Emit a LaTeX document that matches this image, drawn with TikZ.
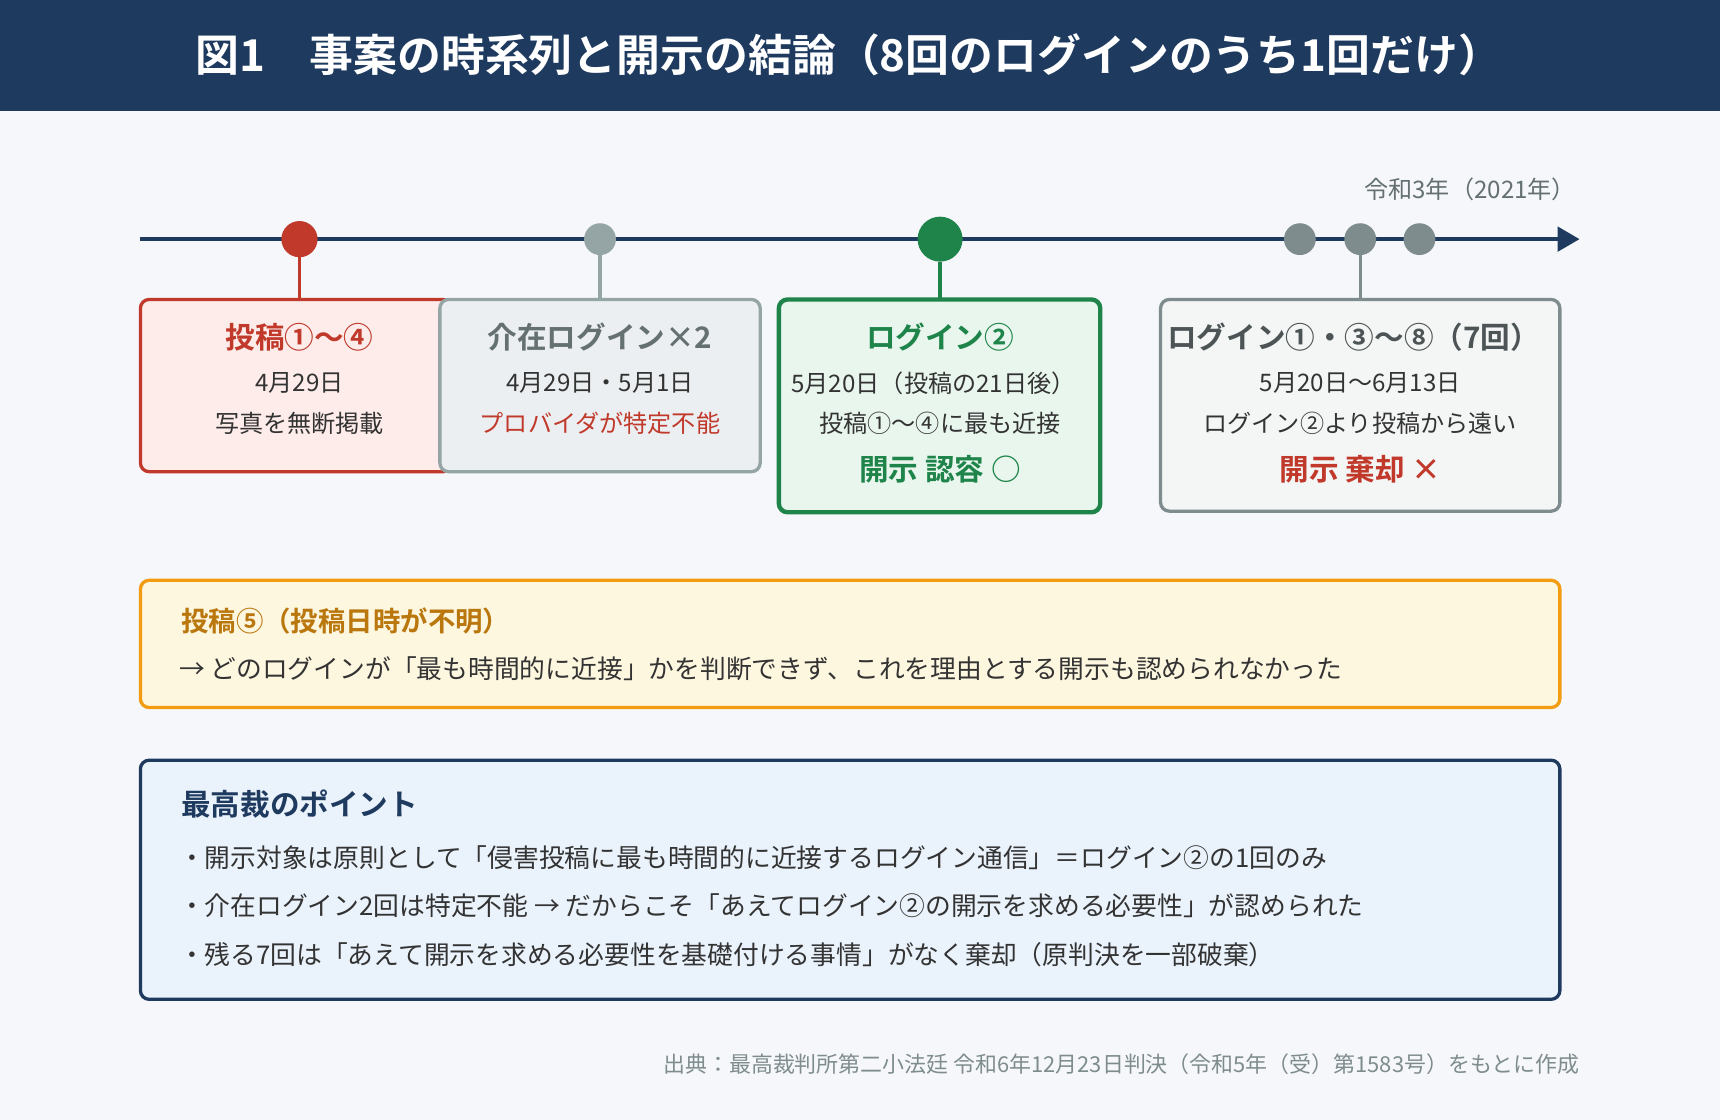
\documentclass[tikz,border=0pt]{standalone}
\usepackage{fontspec}
\setmainfont{Noto Sans CJK JP}[BoldFont={* Bold}]
\usetikzlibrary{arrows.meta}
\definecolor{navy}{HTML}{1E3A5F}
\definecolor{bg}{HTML}{F5F7FA}
\definecolor{red1}{HTML}{C0392B}
\definecolor{gray1}{HTML}{95A5A6}
\definecolor{gray2}{HTML}{7F8C8D}
\definecolor{green1}{HTML}{1E8449}
\definecolor{orange1}{HTML}{F39C12}
\definecolor{brown1}{HTML}{B9770E}
\definecolor{txt}{HTML}{333333}
\definecolor{fred}{HTML}{FDECEA}
\definecolor{fgray}{HTML}{ECEFF1}
\definecolor{fgreen}{HTML}{E8F6EE}
\definecolor{fgray2}{HTML}{F4F5F5}
\definecolor{fyel}{HTML}{FEF7E0}
\definecolor{fblue}{HTML}{EAF2FB}
\tikzset{
 box/.style={rounded corners=8pt,line width=3pt},
 dot/.style={circle,inner sep=0pt},
 stem/.style={line width=3pt},
 t/.style={font=\fontsize{23.5}{26}\selectfont,text=txt,inner sep=0pt},
 bt/.style={t,font=\fontsize{22}{26}\selectfont},
 h/.style={font=\fontsize{27}{30}\selectfont\bfseries,inner sep=0pt},
}
\begin{document}
\begin{tikzpicture}[x=1pt,y=-1pt]
\useasboundingbox (0,0) rectangle (1568,1021);
\fill[bg] (0,0) rectangle (1568,1021);
\fill[navy] (0,0) rectangle (1568,101);
\node[font=\fontsize{40}{44}\selectfont\bfseries,text=white] (title) at (774,50) {図1\quad 事案の時系列と開示の結論（8回のログインのうち1回だけ）};
\node[bt,anchor=east,text=gray2!80!black] (year) at (1437,173) {令和3年（2021年）};
\coordinate (tl0) at (128,218); \coordinate (tl1) at (1440,218);
\draw[navy,line width=4pt,-{Triangle[length=20pt,width=22pt]}] (tl0) -- (tl1);
% boxes
\draw[box,red1,fill=fred] (128,273) rectangle (412,430);
\draw[box,gray1,fill=fgray] (401,273) rectangle (693,430);
\draw[box,green1,fill=fgreen,line width=4pt] (710,273) rectangle (1003,467);
\draw[box,gray2,fill=fgray2] (1058,273) rectangle (1422,466);
% dots and stems
\node[dot,fill=red1,minimum size=33pt] (d1) at (273,218) {};
\node[dot,fill=gray1,minimum size=29pt] (d2) at (547,218) {};
\node[dot,fill=green1,minimum size=41pt] (d3) at (857,218) {};
\node[dot,fill=gray2,minimum size=29pt] (d4) at (1185,218) {};
\node[dot,fill=gray2,minimum size=29pt] (d5) at (1240,218) {};
\node[dot,fill=gray2,minimum size=29pt] (d6) at (1294,218) {};
\coordinate (b1) at (273,272); \coordinate (b2) at (547,272);
\coordinate (b3) at (857,272); \coordinate (b4) at (1240,272);
\draw[stem,red1] (d1) -- (b1);
\draw[stem,gray1] (d2) -- (b2);
\draw[stem,green1] (d3) -- (b3);
\draw[stem,gray2] (d5) -- (b4);
% box texts
\node[h,text=red1] (a1) at (273,307) {投稿①〜④};
\node[bt] (a2) at (273,349) {4月29日};
\node[bt] (a3) at (273,386) {写真を無断掲載};
\node[h,text=gray2!80!black] (g1) at (547,307) {介在ログイン×2};
\node[bt] (g2) at (547,349) {4月29日・5月1日};
\node[bt,text=red1] (g3) at (547,386) {プロバイダが特定不能};
\node[h,text=green1] (c1) at (857,307) {ログイン②};
\node[bt] (c2) at (851,349) {5月20日（投稿の21日後）};
\node[bt] (c3) at (857,386) {投稿①〜④に最も近接};
\node[h,text=green1] (c4) at (857,428) {開示 認容 ○};
\node[h,text=gray2!60!black] (e1) at (1234,307) {ログイン①・③〜⑧（7回）};
\node[bt] (e2) at (1240,349) {5月20日〜6月13日};
\node[bt] (e3) at (1240,386) {ログイン②より投稿から遠い};
\node[h,text=red1] (e4) at (1240,428) {開示 棄却 ×};
% yellow box
\draw[box,orange1,fill=fyel] (128,529) rectangle (1422,645);
\node[h,text=brown1,anchor=west,font=\fontsize{25}{28}\selectfont\bfseries] (y1) at (165,566) {投稿⑤（投稿日時が不明）};
\node[t,anchor=west] (y2) at (163,610) {→ どのログインが「最も時間的に近接」かを判断できず、これを理由とする開示も認められなかった};
% blue box
\draw[box,navy,fill=fblue] (128,693) rectangle (1422,911);
\node[h,text=navy,anchor=west] (p0) at (165,733) {最高裁のポイント};
\node[t,anchor=west] (p1) at (163,782) {・開示対象は原則として「侵害投稿に最も時間的に近接するログイン通信」＝ログイン②の1回のみ};
\node[t,anchor=west] (p2) at (163,826) {・介在ログイン2回は特定不能 → だからこそ「あえてログイン②の開示を求める必要性」が認められた};
\node[t,anchor=west] (p3) at (163,870) {・残る7回は「あえて開示を求める必要性を基礎付ける事情」がなく棄却（原判決を一部破棄）};
\node[t,anchor=east,text=gray2,font=\fontsize{20}{22}\selectfont] (src) at (1440,970) {出典：最高裁判所第二小法廷 令和6年12月23日判決（令和5年（受）第1583号）をもとに作成};
\end{tikzpicture}
\end{document}
